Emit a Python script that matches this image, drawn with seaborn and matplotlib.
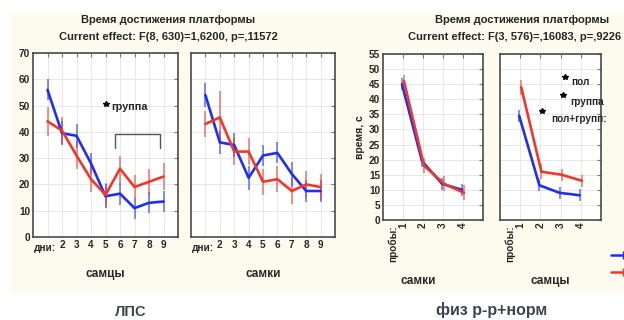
import matplotlib
matplotlib.use('Agg')
import numpy as np
import pandas as pd
import matplotlib.pyplot as plt
import seaborn as sns
from matplotlib.patches import Rectangle
from matplotlib.lines import Line2D

# ---- data ----
groups = ['контроль', 'опыт']
days = [1, 2, 3, 4, 5, 6, 7, 8, 9]
trials = [1, 2, 3, 4]

# ЛПС, самцы
lps_m_blue = [56, 39.5, 38.5, 28, 15.5, 16.5, 11, 13, 13.5]
lps_m_blue_err = [4, 4.5, 4.5, 4, 4.5, 4.5, 4, 4, 4]
lps_m_red = [44, 40.5, 31, 22, 16, 26, 19, 21, 23]
lps_m_red_err = [5.5, 5, 5, 5, 4.5, 5, 4.5, 5, 5]

# ЛПС, самки
lps_f_blue = [54, 36, 35, 22.5, 31, 32, 24, 17.5, 17.5]
lps_f_blue_err = [4.5, 4.5, 4.5, 4.5, 4, 4, 4.5, 4, 4]
lps_f_red = [43, 45.5, 32.5, 32.5, 21, 22, 17.5, 20, 19]
lps_f_red_err = [5, 10, 5, 5, 5, 5, 5, 5, 5]

# физ р-р+норм, самки
fiz_f_blue = [45, 19.5, 12, 10]
fiz_f_blue_err = [2, 2, 2, 2]
fiz_f_red = [46, 18, 12, 9]
fiz_f_red_err = [2, 2.5, 2.5, 2.5]

# физ р-р+норм, самцы
fiz_m_blue = [34.5, 11.5, 9, 8.2]
fiz_m_blue_err = [2, 2, 2, 2]
fiz_m_red = [44, 16, 15, 13]
fiz_m_red_err = [2.5, 2.5, 2, 2]

BLUE = '#1f2ff2'
RED = '#f0382a'
CREAM = '#fdfaee'
FRAME = '#4a4a4a'
TICK_FS = 7.2

sns.set_style('white')
plt.rcParams['font.family'] = ['Liberation Sans', 'DejaVu Sans']
plt.rcParams['font.weight'] = 'bold'


def make_frame(x, blue, red):
    return pd.DataFrame({
        'x': list(x) + list(x),
        'y': list(blue) + list(red),
        'group': [groups[0]] * len(x) + [groups[1]] * len(x),
    })


def draw_panel(ax, x, blue, blue_err, red, red_err, dodge=0.0):
    df = make_frame(x, blue, red)
    df['xd'] = df['x'] + np.where(df['group'] == groups[1], dodge, -dodge)
    sns.lineplot(data=df, x='xd', y='y', hue='group', palette=[BLUE, RED],
                 errorbar=None, linewidth=1.9, legend=False, ax=ax, zorder=3)
    for g, col, err in [(groups[0], BLUE, blue_err), (groups[1], RED, red_err)]:
        sub = df[df['group'] == g]
        ax.errorbar(sub['xd'], sub['y'], yerr=err, fmt='none', ecolor=col,
                    elinewidth=1.4, alpha=0.55, capsize=0, zorder=2)
    ax.set_facecolor('white')
    ax.grid(True, color='#e4e4e4', linewidth=0.6)
    ax.set_axisbelow(True)
    for s in ax.spines.values():
        s.set_color(FRAME)
        s.set_linewidth(1.2)
    ax.tick_params(direction='in', top=True, right=True, length=3,
                   width=0.8, color='#777777', labelsize=TICK_FS, pad=2)
    ax.set_xlabel('')
    ax.set_ylabel('')


fig = plt.figure(figsize=(6.24, 3.2), dpi=100)
fig.patches.append(Rectangle((12 / 624, 1 - 293 / 320), 612 / 624, 280 / 320,
                             transform=fig.transFigure, facecolor=CREAM,
                             edgecolor='none', zorder=-10))

# ---- ЛПС ----
ax1 = fig.add_axes([33 / 624, 1 - 237 / 320, 145 / 624, 184 / 320])
ax2 = fig.add_axes([191 / 624, 1 - 237 / 320, 144 / 624, 184 / 320])
draw_panel(ax1, days, lps_m_blue, lps_m_blue_err, lps_m_red, lps_m_red_err)
draw_panel(ax2, days, lps_f_blue, lps_f_blue_err, lps_f_red, lps_f_red_err)
for ax in (ax1, ax2):
    ax.set_xlim(0, 10)
    ax.set_ylim(0, 70)
    ax.set_xticks(days)
    ax.set_xticklabels([''] + [str(d) for d in days[1:]])
    ax.set_yticks(range(0, 71, 10))
    ax.text(1.6, -0.035, 'дни:', transform=ax.get_xaxis_transform(),
            ha='right', va='top', fontsize=TICK_FS, fontweight='bold')
ax2.set_yticklabels([])
ax1.text(0.5, -0.2, 'самцы', transform=ax1.transAxes, ha='center', va='center',
         fontsize=8.5, fontweight='bold')
ax2.text(0.5, -0.2, 'самки', transform=ax2.transAxes, ha='center', va='center',
         fontsize=8.5, fontweight='bold')

# significance mark
ax1.plot(5.0, 50.5, marker='*', color='black', markersize=4)
ax1.text(5.4, 49.5, 'группа', fontsize=7.8, fontweight='bold', va='center')
ax1.plot([5.66, 5.66, 8.76, 8.76], [33.8, 39, 39, 33.8], color='#555555', lw=1)

fig.text(168 / 624, 1 - 20 / 320, 'Время достижения платформы', ha='center',
         va='center', fontsize=8, fontweight='bold')
fig.text(168 / 624, 1 - 37 / 320, 'Current effect: F(8, 630)=1,6200, p=,11572',
         ha='center', va='center', fontsize=8, fontweight='bold')

# ---- физ р-р+норм ----
ax3 = fig.add_axes([383 / 624, 1 - 220 / 320, 100 / 624, 166 / 320])
ax4 = fig.add_axes([500 / 624, 1 - 220 / 320, 101 / 624, 166 / 320])
draw_panel(ax3, trials, fiz_f_blue, fiz_f_blue_err, fiz_f_red, fiz_f_red_err, dodge=0.05)
draw_panel(ax4, trials, fiz_m_blue, fiz_m_blue_err, fiz_m_red, fiz_m_red_err, dodge=0.05)
for ax in (ax3, ax4):
    ax.set_xlim(0, 5)
    ax.set_ylim(0, 55)
    ax.set_xticks(trials)
    ax.set_xticklabels([str(t) for t in trials], rotation=90, va='top')
    ax.set_yticks(range(0, 56, 5))
    ax.text(0.5, -0.03, 'пробы:', transform=ax.get_xaxis_transform(),
            rotation=90, ha='center', va='top', fontsize=TICK_FS, fontweight='bold')
ax4.set_yticklabels([])
ax3.set_ylabel('время, с', fontsize=7.5, fontweight='bold', labelpad=3)
ax3.text(0.35, -0.37, 'самки', transform=ax3.transAxes, ha='center', va='center',
         fontsize=8.5, fontweight='bold')
ax4.text(0.5, -0.37, 'самцы', transform=ax4.transAxes, ha='center', va='center',
         fontsize=8.5, fontweight='bold')

ax4.plot(3.2, 47.4, marker='*', color='black', markersize=4)
ax4.text(3.55, 45.7, 'пол', fontsize=7.2, fontweight='bold', va='center')
ax4.plot(3.1, 41.4, marker='*', color='black', markersize=4)
ax4.text(3.5, 39.2, 'группа', fontsize=7.2, fontweight='bold', va='center')
ax4.plot(2.1, 36, marker='*', color='black', markersize=4)
ax4.text(2.55, 33.6, 'пол+групп:', fontsize=7.2, fontweight='bold', va='center',
         clip_on=False)

fig.text(435 / 624, 1 - 20 / 320, 'Время достижения платформы', ha='left',
         va='center', fontsize=8, fontweight='bold')
fig.text(408 / 624, 1 - 37 / 320, 'Current effect: F(3, 576)=,16083, p=,9226',
         ha='left', va='center', fontsize=8, fontweight='bold')

# legend symbols, cut off at the right edge as in the screenshot
handles = [Line2D([0], [0], color=BLUE, lw=1.8, marker='|', markersize=6),
           Line2D([0], [0], color=RED, lw=1.8, marker='|', markersize=6)]
fig.legend(handles, ['', ''], loc='upper left', bbox_to_anchor=(611 / 624, 1 - 250 / 320),
           frameon=False, fontsize=7, handlelength=2.5, borderpad=0, borderaxespad=0,
           labelspacing=0.8)

# captions under the screenshots
fig.text(131 / 624, 1 - 312 / 320, 'ЛПС', ha='center', va='center', fontsize=10.5,
         fontweight='bold', color='#3d4450')
fig.text(492 / 624, 1 - 310 / 320, 'физ р-р+норм', ha='center', va='center',
         fontsize=11.5, fontweight='bold', color='#3d4450')

fig.savefig('out.png', dpi=100)
